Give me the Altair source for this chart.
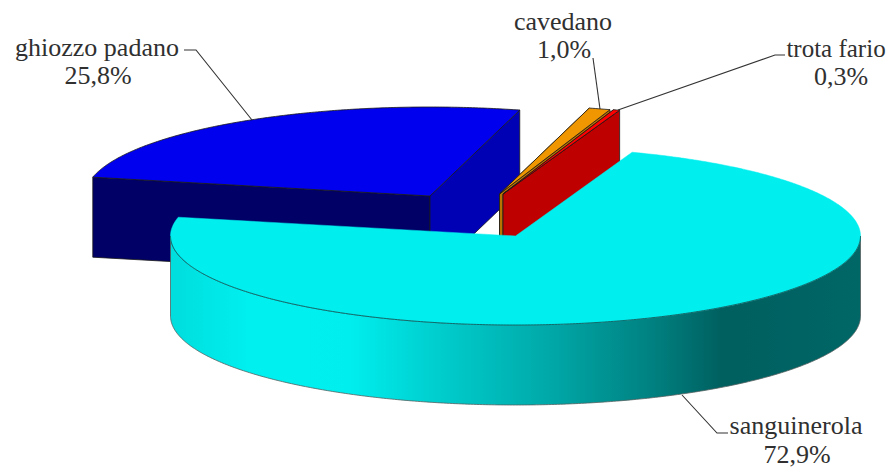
import math
import altair as alt

# ---- chart values ----
names = ["ghiozzo padano", "cavedano", "trota fario", "sanguinerola"]
shares = [25.8, 1.0, 0.3, 72.9]
value_labels = ["25,8%", "1,0%", "0,3%", "72,9%"]

# ---- styling / layout ----
W, H = 879, 460
M = 8
START = -77.8      # degrees clockwise from top where the first slice begins
RX, RY, DEPTH = 345, 89, 80
APEX = {"ghiozzo padano": (430, 196), "cavedano": (499.5, 194),
        "trota fario": (503, 194), "sanguinerola": (515.5, 236)}
TOP = {"ghiozzo padano": "#0000EE", "cavedano": "#F09600",
       "trota fario": "#FF0000", "sanguinerola": "#00EEEE"}
FACE_A = {"ghiozzo padano": "#000066", "cavedano": "#B87300", "trota fario": "#800000"}
FACE_B = {"ghiozzo padano": "#0000B4", "cavedano": "#B87300", "trota fario": "#BE0000"}
EDGE = "#1a1a1a"
FONT = "Liberation Serif"
FS = 26

spans = {}
a = START
for n, s in zip(names, shares):
    b = a + s * 3.6
    spans[n] = (a, b)
    a = b


def pt(n, deg, dz=0):
    cx, cy = APEX[n]
    r = math.radians(deg)
    return (cx + RX * math.sin(r) - M, cy - RY * math.cos(r) + dz - M)


def arc(n, a0, a1, dz=0):
    k = max(2, int(abs(a1 - a0) * 2))
    return [pt(n, a0 + (a1 - a0) * i / k, dz) for i in range(k + 1)]


def ap(n, dz=0):
    return (APEX[n][0] - M, APEX[n][1] + dz - M)


def poly(points, fill, stroke, width=0.8):
    ring = [list(p) for p in points]
    ring.append(ring[0])
    return {"type": "Feature", "geometry": {"type": "Polygon", "coordinates": [ring]},
            "properties": {"fill": fill, "stroke": stroke, "sw": width}}


def line(points, color="#333333", width=1.1):
    return {"type": "Feature",
            "geometry": {"type": "LineString", "coordinates": [list(p) for p in points]},
            "properties": {"fill": "transparent", "stroke": color, "sw": width}}


def shapes(features, **mark):
    data = alt.InlineData(values={"type": "FeatureCollection", "features": features},
                          format=alt.DataFormat(property="features", type="json"))
    return alt.Chart(data).mark_geoshape(**mark)


def encoded(features):
    return shapes(features).encode(
        fill=alt.Fill("properties.fill:N", scale=None),
        stroke=alt.Stroke("properties.stroke:N", scale=None),
        strokeWidth=alt.StrokeWidth("properties.sw:Q", scale=None),
    ).project(**{"type": "identity", "scale": 1, "translate": [0, 0]})


def wedge_features(n):
    a0, a1 = spans[n]
    f = []
    f.append(poly([ap(n), ap(n, DEPTH), pt(n, a0, DEPTH), pt(n, a0)], FACE_A[n], EDGE))
    f.append(poly([ap(n), ap(n, DEPTH), pt(n, a1, DEPTH), pt(n, a1)], FACE_B[n], EDGE))
    f.append(poly([ap(n)] + arc(n, a0, a1), TOP[n], EDGE))
    return f


n_cy = "sanguinerola"
a0, a1 = spans[n_cy]
side_pts = arc(n_cy, 90, 270) + arc(n_cy, 270, 90, DEPTH)
side_grad = alt.LinearGradient(
    gradient="linear", x1=0, x2=1, y1=0, y2=0,
    stops=[alt.GradientStop(offset=0.0, color="#00DDDD"),
           alt.GradientStop(offset=0.12, color="#00F0F0"),
           alt.GradientStop(offset=0.26, color="#00EEEE"),
           alt.GradientStop(offset=0.36, color="#00D4D4"),
           alt.GradientStop(offset=0.55, color="#00A8A8"),
           alt.GradientStop(offset=0.70, color="#008080"),
           alt.GradientStop(offset=0.80, color="#005F5F"),
           alt.GradientStop(offset=1.0, color="#006666")])
side = shapes([poly(side_pts, "x", "x")], fill=side_grad, stroke="#555f5f", strokeWidth=0.8).project(
    **{"type": "identity", "scale": 1, "translate": [0, 0]})

top_cy = encoded([poly([ap(n_cy)] + arc(n_cy, a0, a1), TOP[n_cy], "#00EEEE", 0.5),
                  line(arc(n_cy, 90, 270), "#0B5050", 0.8)])

leaders = encoded([
    line([(184 - M, 50 - M), (196 - M, 50 - M), (252 - M, 120 - M)]),
    line([(593 - M, 58 - M), (600 - M, 109 - M)]),
    line([(618 - M, 110 - M), (775 - M, 55 - M), (785 - M, 55 - M)]),
    line([(682 - M, 395 - M), (717 - M, 433 - M), (728 - M, 433 - M)]),
])

# label anchors in page pixels: (centre x of name, name baseline, centre x of value, value baseline, name size)
ANCHORS = [(97, 56, 98, 84, FS), (563, 30, 564, 58, FS), (836, 57, 841, 85, 25), (796, 434, 797, 463, FS)]


def label(text, x, y, size):
    return alt.Chart(alt.Data(values=[{"t": text}])).mark_text(
        font=FONT, fontSize=size, color="#303030", align="center", baseline="alphabetic"
    ).encode(text="t:N", x=alt.value(x - M), y=alt.value(y - M))


labels = []
for nm, vl, (x1, y1, x2, y2, size) in zip(names, value_labels, ANCHORS):
    labels.append(label(nm, x1, y1, size))
    labels.append(label(vl, x2, y2, FS))

chart = alt.layer(
    encoded(wedge_features("ghiozzo padano")),
    encoded(wedge_features("cavedano")),
    encoded(wedge_features("trota fario")),
    side,
    top_cy,
    leaders,
    *labels,
).properties(width=W, height=H, padding=0, background="white",
             autosize=alt.AutoSizeParams(type="none")).configure_view(stroke=None)

chart.save("out.html", embed_options={"renderer": "svg", "actions": False})
